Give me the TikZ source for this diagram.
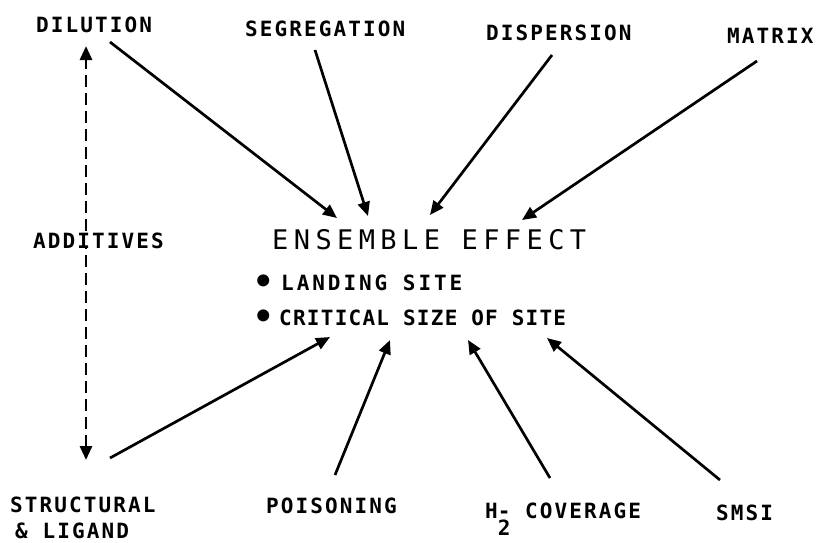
\documentclass[tikz,border=0pt]{standalone}
\usepackage{fontspec}
\usetikzlibrary{arrows.meta}
\newfontfamily\labfont[LetterSpace=10]{DejaVu Sans Mono Bold}
\newfontfamily\ensfont[LetterSpace=20]{DejaVu Sans Mono}
\newfontfamily\landfont[LetterSpace=14]{DejaVu Sans Mono Bold}
\newfontfamily\critfont[LetterSpace=6]{DejaVu Sans Mono Bold}
\newcommand{\bigbul}[1]{\makebox[#1][l]{\raisebox{-3.5pt}{\fontsize{34}{28}\selectfont •}}}
\begin{document}
\begin{tikzpicture}[x=1pt,y=-1pt,
  lbl/.style={anchor=base west,inner sep=0pt,font=\labfont\fontsize{21}{28}\selectfont},
  conn/.style={line width=2.7pt,-{Triangle[length=14pt,width=12pt]}},
  dashconn/.style={line width=2.9pt,dash pattern=on 12pt off 6pt,
    {Triangle[length=14pt,width=12pt]}-{Triangle[length=14pt,width=12pt]}}
]
\useasboundingbox[fill=white] (0,0) rectangle (821,542);

% dashed additive arrow (drawn first, label covers it)
\coordinate (addtop) at (86,46);
\coordinate (addbot) at (86,460);
\draw[dashconn] (addbot) -- (addtop);

% top labels
\node[lbl] (dilution) at (36,32) {DILUTION};
\node[lbl] (segregation) at (245,36) {SEGREGATION};
\node[lbl] (dispersion) at (486,40) {DISPERSION};
\node[lbl] (matrix) at (727,43) {MATRIX};
\node[lbl,fill=white] (additives) at (33,248) {ADDITIVES};

% centre
\node[lbl,font=\ensfont\fontsize{27}{30}\selectfont] (ensemble) at (272,249) {ENSEMBLE EFFECT};
\node[lbl,font=\landfont\fontsize{21}{28}\selectfont] (landing) at (253,290) {\bigbul{28pt}LANDING SITE};
\node[lbl,font=\critfont\fontsize{21}{28}\selectfont] (critical) at (253,325) {\bigbul{26pt}CRITICAL SIZE OF SITE};

% bottom labels
\node[lbl] (structural) at (10,512) {STRUCTURAL};
\node[lbl] (ligand) at (15,538) {\& LIGAND};
\node[lbl] (poisoning) at (266,513) {POISONING};
\node[lbl] (h2cov) at (485,518) {H\rlap{\raisebox{-17pt}{2}}-~COVERAGE};
\node[lbl] (smsi) at (716,520) {SMSI};

% arrow end points
\coordinate (dilS) at (110,42);   \coordinate (dilT) at (337,218);
\coordinate (segS) at (315,50);   \coordinate (segT) at (368,216);
\coordinate (disS) at (552,55);   \coordinate (disT) at (430,215);
\coordinate (matS) at (757,61);   \coordinate (matT) at (522,220);
\coordinate (strS) at (110,458);  \coordinate (strT) at (330,337);
\coordinate (poiS) at (335,475);  \coordinate (poiT) at (390,340);
\coordinate (h2S) at (550,478);   \coordinate (h2T) at (468,340);
\coordinate (smsS) at (720,480);  \coordinate (smsT) at (547,338);

\draw[conn] (dilS) -- (dilT);
\draw[conn] (segS) -- (segT);
\draw[conn] (disS) -- (disT);
\draw[conn] (matS) -- (matT);
\draw[conn] (strS) -- (strT);
\draw[conn] (poiS) -- (poiT);
\draw[conn] (h2S) -- (h2T);
\draw[conn] (smsS) -- (smsT);
\end{tikzpicture}
\end{document}
